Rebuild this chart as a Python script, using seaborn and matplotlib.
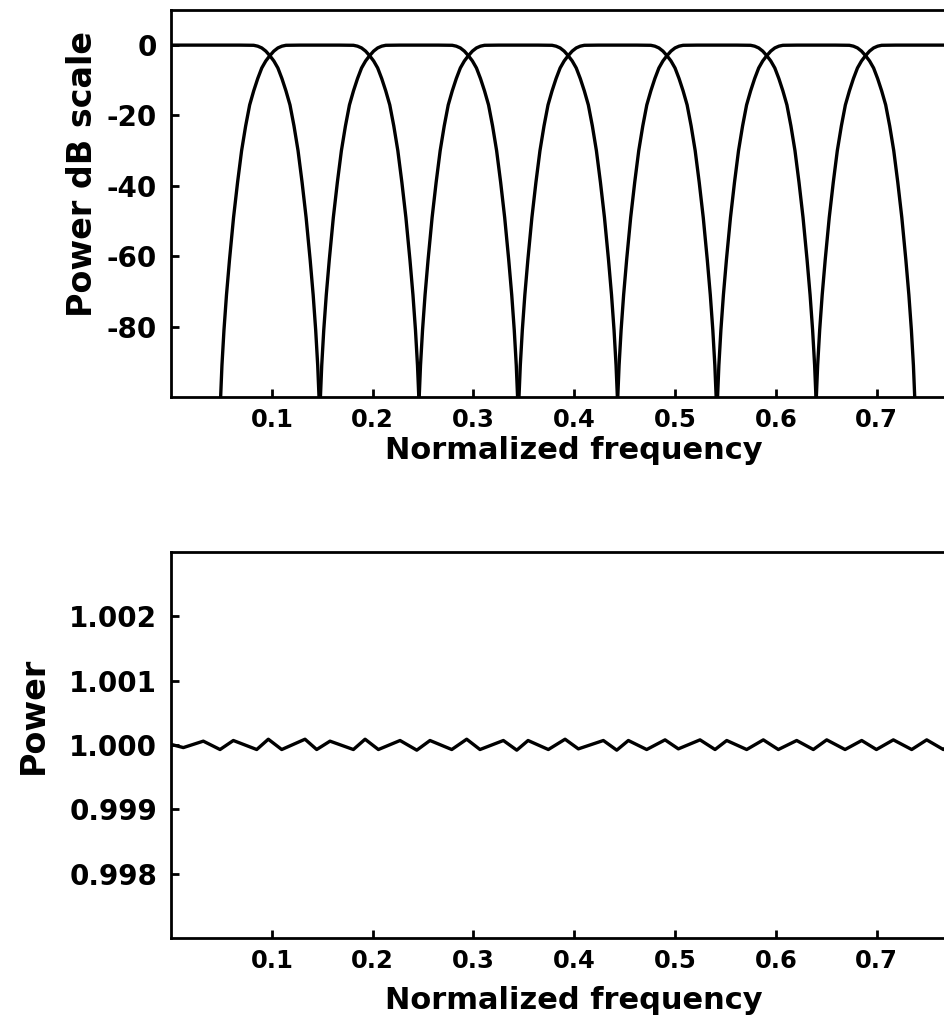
import matplotlib
matplotlib.use("Agg")
import matplotlib.pyplot as plt
import seaborn as sns
import pandas as pd
from matplotlib.ticker import FormatStrFormatter

# crossover points of the 8-band filter bank (-3 dB)
crossovers = [0.098, 0.197, 0.295, 0.394, 0.492, 0.591, 0.689]

# shape of one falling band edge, offset from its crossover (freq) -> dB
edge_offset = [-0.030, -0.016, -0.012, -0.008, -0.004, 0.000, 0.004, 0.008,
               0.012, 0.016, 0.020, 0.024, 0.028, 0.032, 0.036, 0.040,
               0.043, 0.0455, 0.0475, 0.0488, 0.0495]
edge_db = [0.0, -0.05, -0.3, -0.8, -1.7, -3.0, -4.5, -6.5,
           -9.5, -13.0, -17.0, -23.0, -30.0, -39.0, -49.0, -61.0,
           -71.0, -81.0, -91.0, -100.0, -112.0]

# summed power of all bands (bottom panel), peaks and troughs of the ripple
ripple_freq = [0.000, 0.0122, 0.0320, 0.0486, 0.0618, 0.0850, 0.0965, 0.1098,
               0.1329, 0.1445, 0.1577, 0.1809, 0.1925, 0.2057, 0.2272, 0.2438,
               0.2569, 0.2785, 0.2933, 0.3065, 0.3297, 0.3430, 0.3542, 0.3743,
               0.3909, 0.4041, 0.4289, 0.4422, 0.4537, 0.4719, 0.4901, 0.5033,
               0.5248, 0.5397, 0.5513, 0.5711, 0.5876, 0.6025, 0.6207, 0.6372,
               0.6505, 0.6687, 0.6852, 0.6998, 0.7166, 0.7348, 0.7497, 0.7662,
               0.7827]
ripple_power = [1.00001, 0.99996, 1.00006, 0.99993, 1.00007, 0.99993, 1.00009, 0.99993,
                1.00009, 0.99993, 1.00006, 0.99993, 1.00009, 0.99993, 1.00007, 0.99992,
                1.00007, 0.99993, 1.00009, 0.99993, 1.00007, 0.99992, 1.00007, 0.99993,
                1.00009, 0.99994, 1.00007, 0.99992, 1.00007, 0.99993, 1.00008, 0.99994,
                1.00008, 0.99993, 1.00007, 0.99993, 1.00008, 0.99993, 1.00007, 0.99993,
                1.00008, 0.99993, 1.00007, 0.99993, 1.00008, 0.99993, 1.00008, 0.99993,
                1.00007]

freq_ticks = [0.1, 0.2, 0.3, 0.4, 0.5, 0.6, 0.7]
db_ticks = [0, -20, -40, -60, -80]
power_ticks = [0.998, 0.999, 1.000, 1.001, 1.002]


def build_bank():
    # lowpass, six bandpass filters and a highpass, all sharing the same edge shape
    rows = []
    n = len(crossovers)
    for k in range(n + 1):
        pts = []
        if k == 0:
            pts.append((0.0, 0.0))
        else:
            c = crossovers[k - 1]
            pts += [(c - o, d) for o, d in zip(edge_offset[::-1], edge_db[::-1])]
        if k == n:
            pts.append((0.8, 0.0))
        else:
            c = crossovers[k]
            pts += [(c + o, d) for o, d in zip(edge_offset, edge_db)]
        rows += [(k, f, d) for f, d in pts]
    return pd.DataFrame(rows, columns=["band", "freq", "db"])


def style_axis(ax, ylabel, ylab_x, xlab_y, ylab_size=20):
    ax.set_xlim(0, 0.8)
    ax.set_xticks(freq_ticks, labels=[f"{t:.1f}" for t in freq_ticks])
    ax.tick_params(axis="both", direction="in", length=6, width=2,
                   top=False, right=False, colors="black")
    ax.tick_params(axis="x", labelsize=17.5, pad=8)
    ax.tick_params(axis="y", labelsize=ylab_size, pad=10)
    for lab in ax.get_xticklabels() + ax.get_yticklabels():
        lab.set_fontweight("bold")
    for sp in ax.spines.values():
        sp.set_linewidth(2)
        sp.set_color("black")
    ax.set_xlabel("Normalized frequency", fontsize=22, fontweight="bold",
                  va="center", color="black")
    ax.xaxis.set_label_coords(0.5, xlab_y)
    ax.set_ylabel(ylabel, fontsize=24, fontweight="bold", va="center", color="black")
    ax.yaxis.set_label_coords(ylab_x, 0.577)


def main():
    sns.set_style("ticks")
    plt.rcParams["font.family"] = ["DejaVu Sans"]

    bank = build_bank()

    fig = plt.figure(figsize=(9.45, 10.24), dpi=100)
    # axes run to 0.8 but the page is cut at ~0.77, like the scan
    ax1 = fig.add_axes([0.181, 0.6123, 0.8533, 0.378])
    ax2 = fig.add_axes([0.181, 0.0837, 0.8533, 0.3775])

    sns.lineplot(data=bank, x="freq", y="db", units="band", estimator=None,
                 sort=False, color="black", lw=2.4, ax=ax1)
    ax1.set_ylim(-100, 10)
    ax1.set_yticks(db_ticks, labels=[str(t) for t in db_ticks])
    style_axis(ax1, "Power dB scale", -0.110, -0.139)

    sns.lineplot(x=ripple_freq, y=ripple_power, estimator=None, sort=False,
                 color="black", lw=2.4, ax=ax2)
    ax2.set_ylim(0.997, 1.003)
    ax2.set_yticks(power_ticks)
    ax2.yaxis.set_major_formatter(FormatStrFormatter("%.3f"))
    style_axis(ax2, "Power", -0.171, -0.16)

    fig.savefig("out.png", dpi=100)


if __name__ == "__main__":
    main()
